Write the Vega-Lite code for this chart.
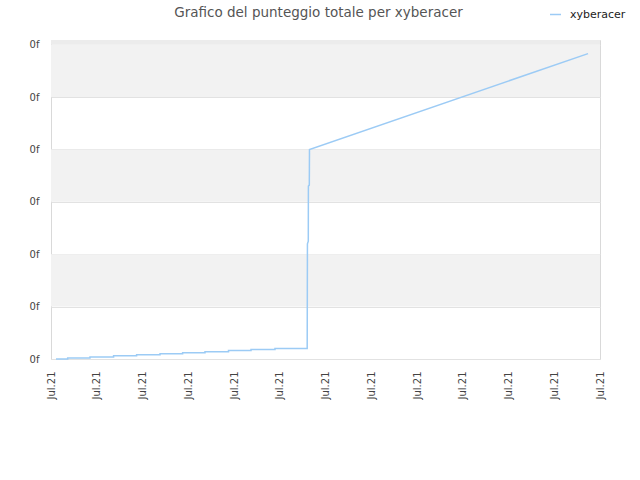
{
  "$schema": "https://vega.github.io/schema/vega-lite/v6.json",
  "width": 549,
  "height": 319,
  "autosize": "none",
  "padding": {"left": 51, "top": 40, "right": 40, "bottom": 121},
  "background": "white",
  "title": {"text": "Grafico del punteggio totale per xyberacer", "fontSize": 13.5, "font": "DejaVu Sans", "fontWeight": "normal", "color": "#555555", "offset": -11, "anchor": "middle", "dx": -7},
  "config": {"view": {"stroke": "#d9d9d9"}, "font": "DejaVu Sans"},
  "layer": [
    {
      "data": {"values": [{"lo": 1, "hi": 2}, {"lo": 3, "hi": 4}, {"lo": 5, "hi": 6}]},
      "mark": {"type": "rect", "fill": "#f2f2f2"},
      "encoding": {
        "y": {"field": "lo", "type": "quantitative", "scale": {"domain": [0, 6.09], "nice": false, "zero": false},
              "axis": {"values": [0,1,2,3,4,5,6], "labelExpr": "'0f'", "labelFontSize": 10, "labelColor": "#444444", "ticks": false, "domain": false, "grid": true, "gridColor": "#e2e2e2", "labelPadding": 12, "title": null}},
        "y2": {"field": "hi"}
      }
    },
    {
      "data": {"values": [{"lo": 6, "hi": 6.09}]},
      "mark": {"type": "rect", "fill": "#ececec"},
      "encoding": {
        "y": {"field": "lo", "type": "quantitative"},
        "y2": {"field": "hi"}
      }
    },
    {
      "data": {"values": [
        {"t": 0.109, "v": 0.0, "s": "xyberacer"},
        {"t": 0.365, "v": 0.0, "s": "xyberacer"},
        {"t": 0.365, "v": 0.02, "s": "xyberacer"},
        {"t": 0.852, "v": 0.02, "s": "xyberacer"},
        {"t": 0.852, "v": 0.04, "s": "xyberacer"},
        {"t": 1.368, "v": 0.04, "s": "xyberacer"},
        {"t": 1.368, "v": 0.06, "s": "xyberacer"},
        {"t": 1.871, "v": 0.06, "s": "xyberacer"},
        {"t": 1.871, "v": 0.08, "s": "xyberacer"},
        {"t": 2.383, "v": 0.08, "s": "xyberacer"},
        {"t": 2.383, "v": 0.1, "s": "xyberacer"},
        {"t": 2.877, "v": 0.1, "s": "xyberacer"},
        {"t": 2.877, "v": 0.12, "s": "xyberacer"},
        {"t": 3.366, "v": 0.12, "s": "xyberacer"},
        {"t": 3.366, "v": 0.14, "s": "xyberacer"},
        {"t": 3.88, "v": 0.14, "s": "xyberacer"},
        {"t": 3.88, "v": 0.16, "s": "xyberacer"},
        {"t": 4.372, "v": 0.16, "s": "xyberacer"},
        {"t": 4.372, "v": 0.18, "s": "xyberacer"},
        {"t": 4.896, "v": 0.18, "s": "xyberacer"},
        {"t": 4.896, "v": 0.2, "s": "xyberacer"},
        {"t": 5.6, "v": 0.2, "s": "xyberacer"},
        {"t": 5.605, "v": 2.2, "s": "xyberacer"},
        {"t": 5.624, "v": 2.25, "s": "xyberacer"},
        {"t": 5.626, "v": 3.3, "s": "xyberacer"},
        {"t": 5.646, "v": 3.32, "s": "xyberacer"},
        {"t": 5.65, "v": 4.0, "s": "xyberacer"},
        {"t": 11.738, "v": 5.83, "s": "xyberacer"}
      ]},
      "mark": {"type": "line", "strokeWidth": 1.5, "interpolate": "linear"},
      "encoding": {
        "x": {"field": "t", "type": "quantitative", "scale": {"domain": [0, 12], "nice": false, "zero": false},
              "axis": {"values": [0,1,2,3,4,5,6,7,8,9,10,11,12], "labelExpr": "'Jul.21'", "labelAngle": 270, "labelFontSize": 10, "labelColor": "#444444", "ticks": false, "domain": false, "grid": false, "labelPadding": 12, "title": null}},
        "y": {"field": "v", "type": "quantitative"},
        "color": {"field": "s", "type": "nominal", "scale": {"domain": ["xyberacer"], "range": ["#9ccbf5"]},
                  "legend": {"orient": "none", "legendX": 498, "legendY": -32, "title": null, "symbolType": "stroke", "symbolSize": 120, "symbolStrokeWidth": 1.5, "labelFontSize": 11, "labelColor": "#222222", "labelOffset": 8, "padding": 0}},
        "order": {"field": "t", "type": "quantitative"}
      }
    }
  ]
}
